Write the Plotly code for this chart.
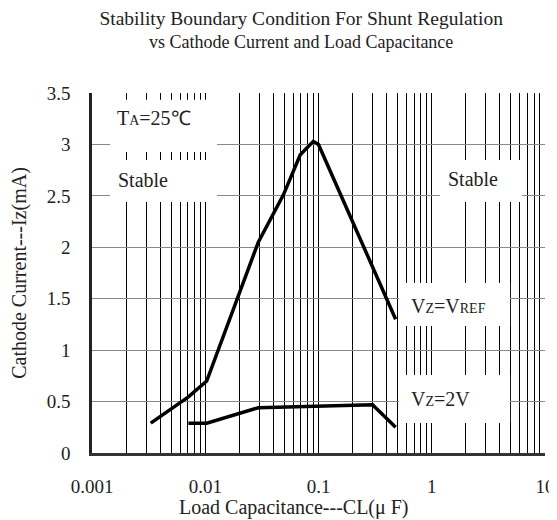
import plotly.graph_objects as go

# Data
vref_x = [0.0033, 0.0071, 0.0103, 0.0294, 0.049, 0.069, 0.09, 0.1, 0.48]
vref_y = [0.29, 0.545, 0.70, 2.05, 2.51, 2.90, 3.03, 3.0, 1.30]

v2_x = [0.0071, 0.0103, 0.0294, 0.30, 0.48]
v2_y = [0.29, 0.29, 0.44, 0.47, 0.25]

x_tick_vals = [0.001, 0.01, 0.1, 1, 10]
x_tick_text = ["0.001", "0.01", "0.1", "1", "10"]
y_tick_vals = [0, 0.5, 1, 1.5, 2, 2.5, 3, 3.5]
y_tick_text = ["0", "0.5", "1", "1.5", "2", "2.5", "3", "3.5"]

minor_vals = [d * m for d in [0.001, 0.01, 0.1, 1] for m in range(2, 10)]

FONT = "Liberation Serif"

fig = go.Figure()
fig.add_trace(go.Scatter(x=vref_x, y=vref_y, mode="lines",
                         line=dict(color="black", width=3.5), showlegend=False))
fig.add_trace(go.Scatter(x=v2_x, y=v2_y, mode="lines",
                         line=dict(color="black", width=3.5), showlegend=False))

# white masks behind labels (paper coords)
masks = [
    (0.040, 0.276, 0.836, 0.981),
    (0.040, 0.276, 0.697, 0.814),
    (0.768, 0.949, 0.697, 0.814),
    (0.678, 0.923, 0.353, 0.472),
    (0.678, 0.923, 0.083, 0.217),
]
for x0, x1, y0, y1 in masks:
    fig.add_shape(type="rect", xref="paper", yref="paper", x0=x0, x1=x1, y0=y0, y1=y1,
                  fillcolor="white", line=dict(width=0), layer="above")

small = "<span style='font-size:14px'>{}</span>"
labels = [
    ("T" + small.format("A") + "=25℃", 0.051, 0.931),
    ("Stable", 0.053, 0.758),
    ("Stable", 0.782, 0.761),
    ("V" + small.format("Z") + "=V" + small.format("REF"), 0.700, 0.408),
    ("V" + small.format("Z") + "=2V", 0.700, 0.150),
]
for t, x, y in labels:
    fig.add_annotation(text=t, xref="paper", yref="paper", x=x, y=y,
                       xanchor="left", yanchor="middle", showarrow=False,
                       font=dict(family=FONT, size=20, color="#222"))

# x-axis title (placed left of centre as in the reference)
fig.add_annotation(text="Load Capacitance---CL(μ F)", xref="paper", yref="paper",
                   x=0.447, y=-0.152, xanchor="center", yanchor="middle", showarrow=False,
                   font=dict(family=FONT, size=20, color="#222"))

fig.update_layout(
    width=549, height=512,
    margin=dict(l=84, r=12, t=85, b=67, autoexpand=False),
    paper_bgcolor="white", plot_bgcolor="white",
    font=dict(family=FONT, size=18, color="#222"),
    title=dict(text="<span style='font-size:19.5px'>Stability Boundary Condition For Shunt Regulation</span><br>vs Cathode Current and Load Capacitance",
               x=0.534, xanchor="center", yref="container", y=1, yanchor="top",
               pad=dict(t=17),
               font=dict(family=FONT, size=18, color="#222")),
    xaxis=dict(type="log", range=[-3, 1], tickvals=x_tick_vals, ticktext=x_tick_text,
               showgrid=True, gridcolor="black", gridwidth=1,
               minor=dict(tickvals=minor_vals, showgrid=True, gridcolor="black", gridwidth=1),
               showline=True, linecolor="#333", linewidth=2.5, ticks="",
               ticklabelstandoff=14, automargin=False, ticklabeloverflow="allow",
               tickfont=dict(size=19),
               zeroline=False),
    yaxis=dict(range=[0, 3.5], tickvals=y_tick_vals, ticktext=y_tick_text,
               showgrid=True, gridcolor="#888", gridwidth=1.2,
               showline=True, linecolor="#222", linewidth=2.5, ticks="",
               ticklabelstandoff=15, automargin=False,
               title=dict(text="Cathode Current---Iz(mA)", standoff=16,
                          font=dict(family=FONT, size=20)),
               tickfont=dict(size=19),
               zeroline=False),
)

fig.write_html("out.html")
